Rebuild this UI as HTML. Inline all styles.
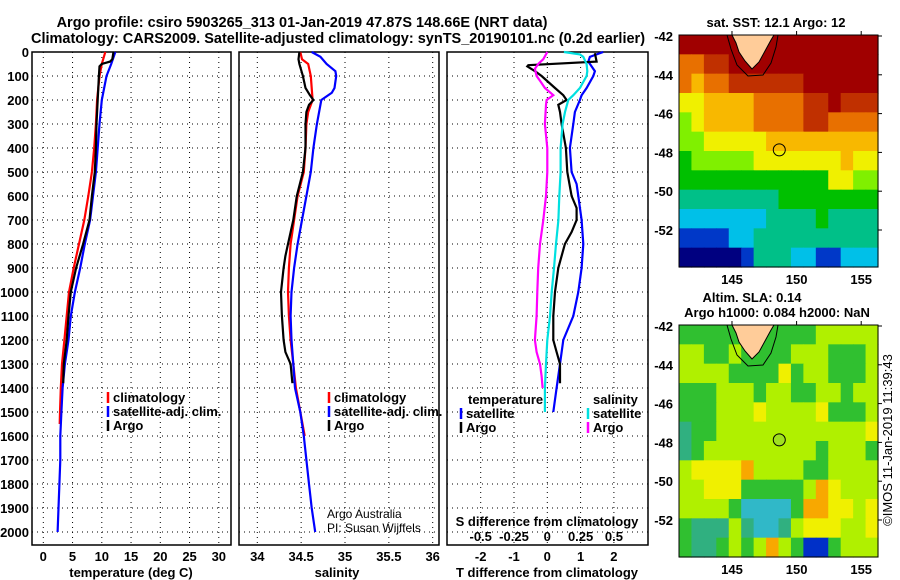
<!DOCTYPE html>
<html><head><meta charset="utf-8">
<style>
html,body{margin:0;padding:0;background:#fff;}
svg{display:block;font-family:"Liberation Sans",sans-serif;}
.b{font-weight:bold;font-size:13px;}
.n{font-weight:normal;font-size:12px;}
.t{font-weight:bold;font-size:14.5px;}
</style></head>
<body>
<svg id="c" width="900" height="580" viewBox="0 0 900 580" xmlns="http://www.w3.org/2000/svg">
<text class="t" x="302" y="27" text-anchor="middle">Argo profile: csiro 5903265_313 01-Jan-2019 47.87S 148.66E (NRT data)</text>
<text class="t" x="338" y="43" text-anchor="middle">Climatology: CARS2009. Satellite-adjusted climatology: synTS_20190101.nc (0.2d earlier)</text>
<g id="g"></g>
</svg>
<script>
// ---------- data ----------
const depthTicks=[0,100,200,300,400,500,600,700,800,900,1000,1100,1200,1300,1400,1500,1600,1700,1800,1900,2000];
const tTicks=[0,5,10,15,20,25,30];
const sTicks=[34,34.5,35,35.5,36];
const sTickLabels=["34","34.5","35","35.5","36"];
const dTTicks=[-2,-1,0,1,2];
const dSTicks=[-0.5,-0.25,0,0.25,0.5];
const dSTickLabels=["-0.5","-0.25","0","0.25","0.5"];

const tClimD=[0,50,100,200,300,400,500,600,700,800,900,1000,1100,1200,1300,1400,1500,1550];
const tClimV=[10.6,10.0,9.6,9.2,9.0,8.7,8.3,7.7,7.0,6.1,5.2,4.4,4.0,3.6,3.2,3.0,2.85,2.8];
const tSatD=[0,50,100,200,300,400,500,600,700,800,900,1000,1100,1200,1300,1400,1500,1600,1700,1800,1900,2000];
const tSatV=[12.3,11.6,10.8,10.0,9.6,9.3,9.0,8.5,8.0,7.1,6.3,5.4,4.7,4.3,3.7,3.3,3.1,2.9,2.9,2.75,2.6,2.45];
const tArgD=[0,30,40,50,60,100,200,300,400,500,600,700,800,900,1000,1100,1200,1300,1380];
const tArgV=[12.0,11.8,11.4,10.0,9.6,9.5,9.3,9.1,9.0,8.8,8.3,7.9,6.8,5.6,4.7,4.3,4.0,3.5,3.4];

const sClimD=[0,30,50,100,200,250,300,400,500,600,700,800,900,1000,1100,1200,1300,1400,1500,1600];
const sClimV=[34.49,34.51,34.58,34.61,34.63,34.58,34.56,34.55,34.53,34.46,34.42,34.38,34.36,34.35,34.36,34.38,34.41,34.44,34.49,34.54];
const sSatD=[0,20,50,80,100,150,170,200,300,400,500,600,700,800,900,1000,1100,1200,1300,1400,1500,1600,1700,1800,1900,2000];
const sSatV=[34.62,34.72,34.79,34.89,34.9,34.88,34.85,34.73,34.68,34.64,34.61,34.56,34.51,34.46,34.42,34.39,34.38,34.39,34.41,34.43,34.49,34.53,34.56,34.59,34.62,34.66];
const sArgD=[0,30,50,100,150,180,200,220,250,300,400,500,600,700,800,850,900,1000,1100,1200,1250,1300,1380];
const sArgV=[34.48,34.47,34.48,34.52,34.55,34.6,34.64,34.59,34.56,34.55,34.55,34.52,34.45,34.41,34.35,34.32,34.3,34.27,34.28,34.3,34.32,34.38,34.4];

const dtSatD=[0,20,40,60,80,100,150,180,200,250,300,350,400,500,550,600,700,800,900,1000,1100,1200,1300,1400,1500];
const dtSatV=[1.68,1.28,1.23,1.33,1.43,1.38,1.18,1.03,0.98,0.83,0.78,0.73,0.68,0.73,0.88,0.93,1.03,1.08,1.03,0.93,0.78,0.48,0.38,0.28,0.18];
const dtArgD=[5,40,55,60,80,100,150,180,200,220,250,300,400,500,600,650,700,750,800,900,1000,1100,1200,1250,1300,1380];
const dtArgV=[1.43,1.48,-0.57,-0.6,-0.37,-0.17,0.23,0.48,0.58,0.33,0.38,0.43,0.56,0.6,0.73,0.88,0.88,0.73,0.53,0.33,0.23,0.18,0.18,0.28,0.38,0.38];
const dsSatD=[0,10,20,50,80,100,150,180,200,250,300,400,500,600,700,800,900,1000,1100,1200,1300,1400,1500];
const dsSatV=[0.125,0.245,0.27,0.295,0.3,0.295,0.245,0.195,0.158,0.133,0.115,0.1,0.1,0.09,0.083,0.065,0.05,0.033,0.02,0.0,-0.01,-0.018,-0.018];
const dsArgD=[0,30,50,70,100,120,150,180,200,220,300,400,500,600,700,800,900,1000,1100,1200,1250,1300,1350,1400];
const dsArgV=[0,-0.03,-0.068,-0.093,-0.08,-0.055,-0.018,0.045,-0.005,-0.01,-0.018,0,0,-0.01,-0.03,-0.055,-0.068,-0.075,-0.08,-0.093,-0.08,-0.055,-0.043,-0.035];

const lonTicks=[145,150,155];
const latTicks=[-42,-44,-46,-48,-50,-52];
const sstGrid=[
[9,9,9,9,9,9,9,9,9,9,9,9,9,9,9,9],
[7,7,8,8,9,9,9,9,9,9,9,9,9,9,9,9],
[7,6,7,7,8,8,8,8,8,8,9,9,9,9,9,9],
[5,5,6,6,6,6,7,7,7,7,8,8,9,8,8,8],
[4,5,6,6,6,6,7,7,7,7,8,8,7,7,7,7],
[4,4,5,5,5,5,5,6,6,6,6,6,6,6,6,6],
[3,4,4,4,4,4,5,5,5,5,5,5,5,6,5,5],
[3,3,3,3,3,3,3,3,3,3,3,3,5,5,4,4],
[2,2,2,2,2,2,2,2,3,3,3,3,3,3,3,3],
[1,1,1,1,1,1,1,2,2,2,2,3,2,2,2,2],
[0,0,0,0,1,1,2,2,2,2,2,2,2,2,2,2],
[-1,-1,-1,-1,-1,0,2,2,2,1,1,0,0,1,1,1]];
const slaGrid=[
[3,3,3,3,3,3,3,3,3,3,3,4,4,4,4,4],
[4,4,3,3,4,3,3,3,3,4,4,4,3,3,3,4],
[4,4,4,4,3,3,3,3,5,3,4,4,3,3,3,4],
[3,3,3,4,4,4,3,4,4,3,3,4,4,3,4,4],
[3,3,3,4,4,4,5,4,4,4,4,5,3,3,3,4],
[2,3,3,4,4,4,4,4,4,4,4,4,4,4,4,5],
[2,3,4,4,4,4,4,4,4,4,4,3,4,4,4,3],
[4,5,5,5,5,6,4,4,4,4,3,3,4,4,4,4],
[4,4,5,5,5,3,3,3,3,3,4,6,5,4,4,4],
[4,4,4,4,3,1,1,1,1,3,6,6,5,5,4,5],
[3,2,2,2,4,2,1,1,2,4,5,5,5,4,4,5],
[3,2,2,3,4,3,4,6,4,3,0,0,3,4,4,4]];

// ---------- helpers ----------
const NS="http://www.w3.org/2000/svg";
const G=document.getElementById('g');
function mk(tag,attrs,parent){const e=document.createElementNS(NS,tag);for(const k in attrs)e.setAttribute(k,attrs[k]);(parent||G).appendChild(e);return e;}
function txt(x,y,s,cls,anchor,parent){const e=mk('text',{x:x,y:y,'text-anchor':anchor||'middle',class:cls||'b'},parent);e.textContent=s;return e;}
const PTOP=52,ppd=0.24;
function yD(d){return PTOP+d*ppd;}
const PBOT=545;
const P1={l:32,r:231,x0:43.3,k:5.85};
const P2={l:239,r:439,x0:257.3,k:87.7,v0:34};
const P3={l:447,r:648,x0:547.3,k:33.3};
function xT(v){return P1.x0+v*P1.k;}
function xS(v){return P2.x0+(v-P2.v0)*P2.k;}
function xdT(v){return P3.x0+v*P3.k;}
function xdS(v){return P3.x0+v*P3.k*4;}

function panel(P,name){
  const g=mk('g',{});
  
  
  depthTicks.forEach(d=>{ if(d>0) mk('line',{x1:P.l,x2:P.r,y1:yD(d),y2:yD(d),stroke:'#000','stroke-width':1,'stroke-dasharray':'1,4'},g);});
  mk('rect',{x:P.l,y:PTOP,width:P.r-P.l,height:PBOT-PTOP,fill:'none',stroke:'#000','stroke-width':1.5},g);
  return g;
}
function vgrid(g,xs){xs.forEach(x=>mk('line',{x1:x,x2:x,y1:PTOP,y2:PBOT,stroke:'#000','stroke-width':1,'stroke-dasharray':'1,4'},g));}
function line(g,D,V,fx,color,name){
  let p='';D.forEach((d,i)=>{p+=(i?'L':'M')+fx(V[i]).toFixed(1)+','+yD(d).toFixed(1);});
  const e=mk('path',{d:p,fill:'none',stroke:color,'stroke-width':2.2},g);
  
  
}
function legend(g,x,y,color,label,name){
  mk('line',{x1:x,x2:x,y1:y-10,y2:y+1,stroke:color,'stroke-width':2.5},g);
  const t=txt(x+5,y,label,'b','start',g);
  
  
}

// Panel 1
const g1=panel(P1,'temperature-panel');
vgrid(g1,tTicks.map(xT));
depthTicks.forEach(d=>{const t=txt(29,yD(d)+5,String(d),'b','end',g1);});
tTicks.forEach(v=>txt(xT(v),561,String(v),'b','middle',g1));
const a1=txt(131,577,'temperature (deg C)','b','middle',g1);


line(g1,tClimD,tClimV,xT,'#ff0000','temp-climatology-line');
line(g1,tSatD,tSatV,xT,'#0000ff','temp-satellite-line');
line(g1,tArgD,tArgV,xT,'#000','temp-argo-line');
legend(g1,108,402,'#ff0000','climatology','legend-climatology');
legend(g1,108,416,'#0000ff','satellite-adj. clim.','legend-satellite');
legend(g1,108,430,'#000','Argo','legend-argo');

// Panel 2
const g2=panel(P2,'salinity-panel');
vgrid(g2,sTicks.map(xS));
sTicks.forEach((v,i)=>txt(xS(v),561,sTickLabels[i],'b','middle',g2));
const a2=txt(337,577,'salinity','b','middle',g2);


line(g2,sClimD,sClimV,xS,'#ff0000','sal-climatology-line');
line(g2,sSatD,sSatV,xS,'#0000ff','sal-satellite-line');
line(g2,sArgD,sArgV,xS,'#000','sal-argo-line');
legend(g2,329,402,'#ff0000','climatology','legend-climatology-s');
legend(g2,329,416,'#0000ff','satellite-adj. clim.','legend-satellite-s');
legend(g2,329,430,'#000','Argo','legend-argo-s');
const c1=txt(327,518,'Argo Australia','n','start',g2);
const c2=txt(327,532,'PI: Susan Wijffels','n','start',g2);



// Panel 3
const g3=panel(P3,'difference-panel');
vgrid(g3,dTTicks.map(xdT));
dTTicks.forEach(v=>txt(xdT(v),561,String(v),'b','middle',g3));
dSTicks.forEach((v,i)=>txt(xdS(v),541,dSTickLabels[i],'b','middle',g3));
txt(547,526,'S difference from climatology','b','middle',g3);
const a3=txt(547,577,'T difference from climatology','b','middle',g3);


line(g3,dtSatD,dtSatV,xdT,'#0000ff','tdiff-satellite-line');
line(g3,dtArgD,dtArgV,xdT,'#000','tdiff-argo-line');
line(g3,dsSatD,dsSatV,xdS,'#00e0e0','sdiff-satellite-line');
line(g3,dsArgD,dsArgV,xdS,'#ff00ff','sdiff-argo-line');
txt(468,404,'temperature','b','start',g3);
legend(g3,461,418,'#0000ff','satellite','legend-t-satellite');
legend(g3,461,432,'#000','Argo','legend-t-argo');
txt(593,404,'salinity','b','start',g3);
legend(g3,588,418,'#00e0e0','satellite','legend-s-satellite');
legend(g3,588,432,'#ff00ff','Argo','legend-s-argo');

// Maps
const sstCol={'-1':'#000080','0':'#0038c8','1':'#00c0e8','2':'#00c088','3':'#00c000','4':'#80f000','5':'#f0f000','6':'#f8b800','7':'#e87000','8':'#c03000','9':'#a00000'};
const slaCol={'0':'#0030c8','1':'#30b8c8','2':'#30b080','3':'#30c030','4':'#b0f000','5':'#f0f000','6':'#f8a800'};
function map(M,grid,cols,name){
  const g=mk('g',{});
  
  
  const lonX=v=>M.l+(v-140.9)*(M.r-M.l)/15.4;
  const latY=v=>M.y42+(-42-v)*M.py;
  const nr=grid.length,nc=grid[0].length,cw=(M.r-M.l)/nc,ch=(M.b-M.t)/nr;
  grid.forEach((row,i)=>row.forEach((v,j)=>{
    mk('rect',{x:(M.l+j*cw).toFixed(2),y:(M.t+i*ch).toFixed(2),width:(cw+0.6).toFixed(2),height:(ch+0.6).toFixed(2),fill:cols[String(v)]},g);
  }));
  const ox=M.l,oy=M.t;
  const land=[[53,0],[57,8],[60,17],[66,26],[73,34],[80,27],[86,16],[92,5],[95,0]];
  mk('path',{d:'M'+land.map(p=>(ox+p[0])+','+(oy+p[1])).join('L')+'Z',fill:'#ffcc99',stroke:'#000','stroke-width':1},g);
  const coast=[[48,0],[52,14],[58,30],[69,41],[84,40],[92,28],[97,12],[99,0]];
  mk('path',{d:'M'+coast.map(p=>(ox+p[0])+','+(oy+p[1])).join('L'),fill:'none',stroke:'#000','stroke-width':1},g);
  mk('circle',{cx:lonX(148.66),cy:latY(-47.87),r:6,fill:M.dot,stroke:'#000','stroke-width':1},g);
  mk('rect',{x:M.l,y:M.t,width:M.r-M.l,height:M.b-M.t,fill:'none',stroke:'#000','stroke-width':1},g);
  latTicks.forEach(v=>{txt(673,latY(v)+5,String(v),'b','end',g);mk('line',{x1:M.r,x2:M.r+4,y1:latY(v),y2:latY(v),stroke:'#000'},g);});
  lonTicks.forEach(v=>{txt(lonX(v),M.b+17,String(v),'b','middle',g);mk('line',{x1:lonX(v),x2:lonX(v),y1:M.t-4,y2:M.t,stroke:'#000'},g);});
}
map({l:679,r:878,t:35,b:267,y42:36,py:19.4,dot:'none'},sstGrid,sstCol,'sst-map');
map({l:679,r:878,t:325,b:557,y42:326,py:19.4,dot:'#a0e020'},slaGrid,slaCol,'sla-map');
txt(776,27,'sat. SST: 12.1 Argo: 12','b','middle');
txt(752,302,'Altim. SLA: 0.14','b','middle');
txt(777,317,'Argo h1000: 0.084 h2000: NaN','b','middle');
const v=txt(0,0,'©IMOS 11-Jan-2019 11:39:43','n','middle');
v.setAttribute('style','font-size:13px');
v.setAttribute('transform','translate(892,440) rotate(-90)');


</script>
</body></html>
